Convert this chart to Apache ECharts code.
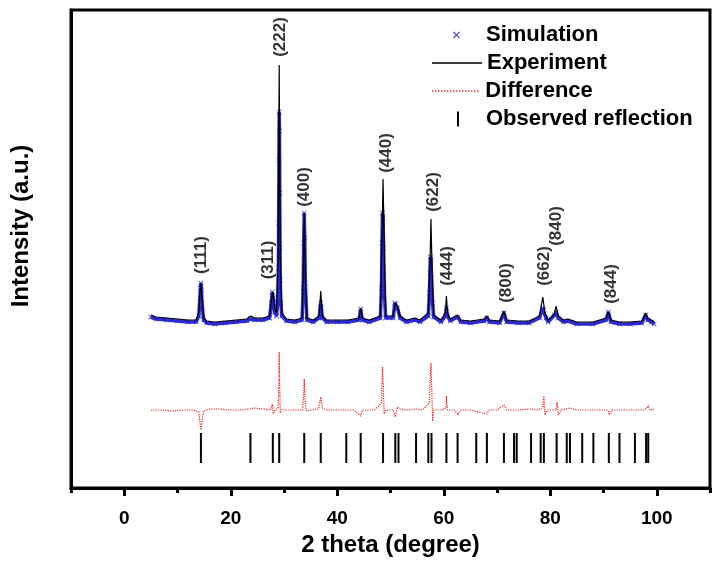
<!DOCTYPE html>
<html>
<head>
<meta charset="utf-8">
<script src="https://cdn.jsdelivr.net/npm/echarts@6/dist/echarts.min.js"></script>
<style>html,body{margin:0;padding:0;background:#fff;}#c{width:718px;height:565px;}</style>
</head>
<body>
<div id="c"></div>
<script>
// ---------- data (2θ in degrees, intensity in arbitrary units) ----------
const experiment = [
  [5.0,173],[6,171],[8,170],[10,169],[12,168],[13.5,168],[14.0,175],[14.2,195],[14.4,204],[14.6,190],[14.9,170],
  [15.5,167],[17,166],[19,167],[21,168],[23,169],[23.7,172],[24.5,170],[26,170],[27.3,172],[27.7,190],[27.9,196],
  [28.2,180],[28.6,175],[28.9,230],[29.1,423],[29.3,230],[29.6,175],[30.5,169],[32,168],[33.4,170],[33.6,210],
  [33.8,275],[34.0,210],[34.3,170],[35.5,168],[36.6,172],[36.9,197],[37.2,172],[38,168],[40,168],[42,168],
  [44.1,170],[44.4,180],[44.7,170],[46,168],[48.1,172],[48.4,250],[48.6,309],[48.8,250],[49.1,172],[50.5,172],
  [50.9,185],[51.3,182],[51.8,172],[53,168],[54.6,170],[55.5,168],[57.1,175],[57.4,220],[57.6,269],[57.8,220],
  [58.1,173],[59.5,168],[60.3,175],[60.5,192],[60.7,175],[61.2,169],[62.6,173],[63.2,168],[65,167],[67.6,169],
  [68.1,172],[68.6,168],[70.5,167],[71.3,177],[71.8,168],[74,167],[76,167],[78.0,172],[78.6,191],[79.0,175],
  [79.6,168],[80.8,174],[81.1,182],[81.5,172],[82.5,168],[83.3,169],[85,166],[88,166],[90.5,170],[90.9,176],
  [91.4,168],[93,166],[95,166],[97.2,167],[97.9,175],[98.3,170],[99.0,168],[99.5,166]
];
const simulation = [
  [5.0,171],[6,169],[8,168],[10,167],[12,166],[13.5,166],[14.0,172],[14.2,190],[14.3,200],[14.4,205],[14.5,198],
  [14.6,185],[14.9,168],[15.5,165],[17,164],[19,165],[21,166],[23,167],[23.7,169],[24.5,168],[26,168],[27.3,170],
  [27.6,185],[27.8,196],[28.0,190],[28.2,176],[28.6,172],[28.8,185],[28.95,220],[29.0,265],[29.05,328],[29.1,376],
  [29.15,357],[29.2,295],[29.25,240],[29.3,208],[29.4,185],[29.6,172],[30.5,167],[32,166],[33.4,168],[33.6,200],
  [33.7,245],[33.8,275],[33.9,250],[34.0,205],[34.3,168],[35.5,166],[36.6,170],[36.8,180],[36.9,185],[37.0,180],
  [37.2,170],[38,166],[40,166],[42,166],[44.1,168],[44.4,179],[44.7,168],[46,166],[48.1,170],[48.3,200],[48.4,245],
  [48.5,275],[48.6,270],[48.7,240],[48.8,200],[49.1,170],[50.5,170],[50.8,185],[51.0,184],[51.3,180],[51.8,170],
  [53,166],[54.6,168],[55.5,166],[57.1,172],[57.3,195],[57.4,215],[57.5,231],[57.6,228],[57.7,210],[57.9,185],
  [58.1,171],[59.5,166],[60.3,172],[60.5,180],[60.7,172],[61.2,167],[62.6,171],[63.2,166],[65,165],[67.6,167],
  [68.1,170],[68.6,166],[70.5,165],[71.3,175],[71.8,166],[74,165],[76,165],[78.0,170],[78.5,180],[78.8,178],
  [79.2,170],[79.6,166],[80.8,173],[81.1,176],[81.5,170],[82.5,166],[83.3,167],[85,164],[88,164],[90.5,168],
  [90.9,176],[91.4,166],[93,164],[95,164],[97.2,165],[97.9,173],[98.3,168],[99.0,166],[99.5,164]
];
const difference = [
  [5,78],[7,78],[9,77],[11,78],[13,78],[14.0,76],[14.3,62],[14.4,58],[14.6,66],[14.9,77],[16,79],[18,79],[20,78],
  [22,78],[23.5,79],[23.8,81],[24.5,80],[26,79],[27.5,78],[27.8,84],[28.0,74],[28.3,78],[28.9,80],[29.05,110],
  [29.1,136],[29.2,100],[29.3,75],[29.5,78],[31,78],[33.5,78],[33.7,95],[33.8,109],[33.95,88],[34.2,77],[35,78],
  [36.5,79],[36.9,91],[37.2,80],[38,78],[41,78],[43,78],[44.4,72],[44.7,78],[47,78],[48.3,85],[48.5,121],
  [48.6,110],[48.8,74],[49.1,78],[50.5,78],[50.9,71],[51.3,81],[51.8,79],[53,78],[54.8,79],[56,78],[57.3,85],
  [57.6,125],[57.75,100],[57.9,67],[58.1,78],[59.5,78],[60.4,80],[60.5,92],[60.7,78],[62,78],[62.7,73],[63.2,78],
  [65,78],[68.1,74],[68.5,78],[70,78],[71.3,83],[71.8,78],[74,78],[76.4,79],[77.5,78],[78.6,80],[78.8,92],
  [79.0,73],[79.4,78],[81.1,78],[81.3,86],[81.5,73],[82,78],[83.7,80],[85,78],[88,78],[90.8,78],[91.1,73],
  [91.6,78],[94,78],[96,78],[97.5,78],[98.2,80],[98.4,83],[98.7,78],[99.5,79]
];
const reflections = [14.4,23.7,27.9,29.1,33.8,36.9,41.7,44.4,48.6,50.9,51.5,54.8,57.1,57.7,60.5,62.6,66.1,68.1,
  71.3,73.2,73.7,76.4,78.2,78.8,81.2,83.1,83.7,86.0,88.1,91.0,93.0,95.9,98.0,98.4];
const reflectionLow = 25, reflectionHigh = 55;
const peakNames = ['(111)','(311)','(222)','(400)','(440)','(622)','(444)','(800)','(662)','(840)','(844)'];
const peakLabelX = [14.4,27.0,29.3,33.8,49.3,58.0,60.7,71.7,78.9,81.2,91.4];
const peakLabelY = [233,228,451,301,335,296,222,205,222,262,204];
const xTickLabels = [0,20,40,60,80,100];
const xMinorTicks = [-10,10,30,50,70,90,110];

const FONT = '"Liberation Sans", Arial, sans-serif';
const crossPath = 'path://M0,1L1,0L5,4L9,0L10,1L6,5L10,9L9,10L5,6L1,10L0,9L4,5Z';
let dots = 'path://';
for (let i = 0; i < 48; i += 3) dots += 'M' + i + ',0h1.4v1.4h-1.4Z';

const chart = echarts.init(document.getElementById('c'), null, {renderer: 'canvas'});
const legendText = {fontFamily: FONT, fontWeight: 'bold', fontSize: 22, color: '#000'};
chart.setOption({
  animation: false,
  backgroundColor: '#fff',
  grid: {left: 71, right: 8, top: 10, bottom: 77, show: true, borderColor: '#000', borderWidth: 3, containLabel: false},
  xAxis: [{
    type: 'value', min: -10, max: 110,
    axisLine: {show: true, lineStyle: {color: '#000', width: 3}},
    axisTick: {show: true, customValues: xTickLabels, length: 8, lineStyle: {color: '#000', width: 3}},
    axisLabel: {show: true, customValues: xTickLabels, margin: 21, fontFamily: FONT, fontWeight: 'bold', fontSize: 19, color: '#000'},
    splitLine: {show: false},
    name: '2 theta (degree)', nameLocation: 'middle', nameGap: 39,
    nameTextStyle: {fontFamily: FONT, fontWeight: 'bold', fontSize: 24, color: '#000'}
  }, {
    type: 'value', min: -10, max: 110, position: 'bottom',
    axisLine: {show: false},
    axisTick: {show: true, customValues: xMinorTicks, length: 5, lineStyle: {color: '#000', width: 3}},
    axisLabel: {show: false}, splitLine: {show: false}
  }],
  yAxis: {
    type: 'value', min: 0, max: 478,
    axisLine: {show: true, onZero: false, lineStyle: {color: '#000', width: 3}},
    axisTick: {show: false}, axisLabel: {show: false}, splitLine: {show: false},
    name: 'Intensity (a.u.)', nameLocation: 'middle', nameGap: 38,
    nameTextStyle: {fontFamily: FONT, fontWeight: 'bold', fontSize: 24, color: '#000', padding: [0, 0, 0, 46]}
  },
  legend: [
    {data: [{name: 'Simulation', icon: crossPath}], left: 448, top: 19, itemWidth: 7, itemHeight: 7,
     textStyle: Object.assign({padding: [0, 0, 0, 21]}, legendText), selectedMode: false},
    {data: [{name: 'Experiment', icon: 'rect'}], left: 427, top: 47, itemWidth: 50, itemHeight: 1.3,
     textStyle: Object.assign({padding: [0, 0, 0, 0]}, legendText), selectedMode: false},
    {data: [{name: 'Difference', icon: dots}], left: 427, top: 75, itemWidth: 48, itemHeight: 1.4,
     textStyle: Object.assign({padding: [0, 0, 0, 1]}, legendText), selectedMode: false},
    {data: [{name: 'Observed reflection', icon: 'rect'}], left: 452, top: 103, itemWidth: 2, itemHeight: 15,
     textStyle: Object.assign({padding: [0, 0, 0, 22]}, legendText), selectedMode: false}
  ],
  series: [
    {
      name: 'Simulation', type: 'line', data: simulation, z: 2,
      color: '#2a2ad0',
      lineStyle: {color: '#2a2ad0', width: 3.5},
      symbol: crossPath, symbolSize: 5, showSymbol: true, showAllSymbol: true,
      itemStyle: {color: '#2a2ad0'}
    },
    {
      name: 'Experiment', type: 'line', data: experiment, z: 3,
      color: '#000', symbol: 'none', lineStyle: {color: '#000', width: 1.2}
    },
    {
      name: 'Difference', type: 'line', data: difference, z: 3,
      color: '#e82020', symbol: 'none', lineStyle: {color: '#e82020', width: 1.2, type: 'dotted'}
    },
    {
      name: 'Observed reflection', type: 'custom', z: 3, color: '#000',
      data: reflections.map(v => [v]),
      encode: {x: 0},
      renderItem: function (params, api) {
        const x = api.value(0);
        const p1 = api.coord([x, reflectionLow]);
        const p2 = api.coord([x, reflectionHigh]);
        return {type: 'line', shape: {x1: p1[0], y1: p1[1], x2: p2[0], y2: p2[1]}, style: {stroke: '#000', lineWidth: 2}};
      }
    },
    {
      name: 'labels', type: 'scatter', z: 4, symbolSize: 0, silent: true,
      data: peakNames.map((n, i) => ({name: n, value: [peakLabelX[i], peakLabelY[i]]})),
      label: {show: true, position: 'inside', rotate: 90, formatter: '{b}', fontFamily: FONT, fontWeight: 'bold', fontSize: 17, color: '#000'}
    }
  ]
});
</script>
</body>
</html>
